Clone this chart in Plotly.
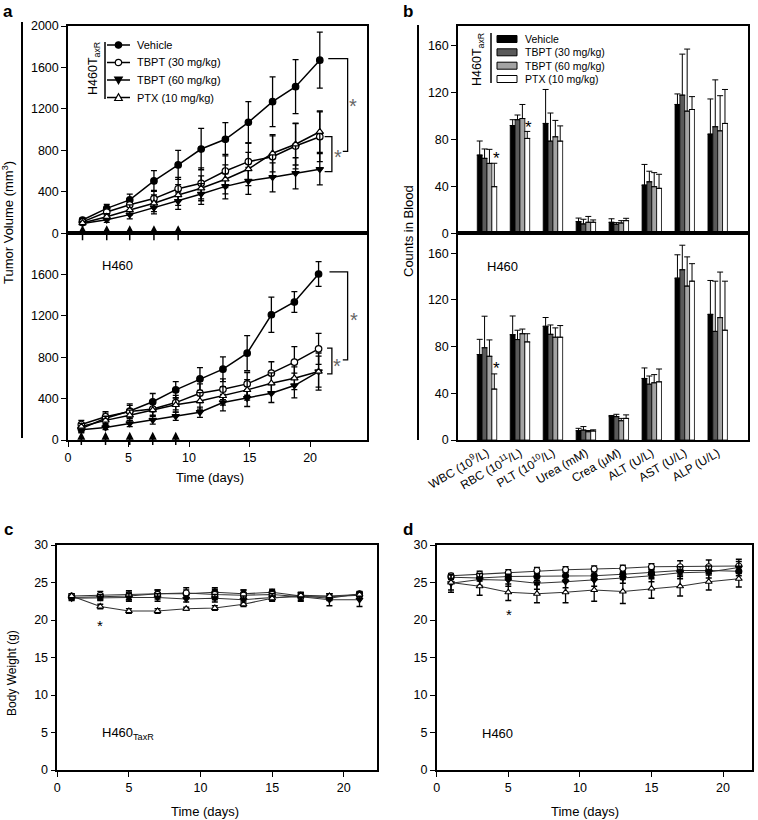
import plotly.graph_objects as go

W, H = 758, 820

groups = ["Vehicle", "TBPT (30 mg/kg)", "TBPT (60 mg/kg)", "PTX (10 mg/kg)"]
symbols = ["circle", "circle", "triangle-down", "triangle-up"]
fills = ["black", "white", "black", "white"]
bar_colors = ["black", "#5a5a5a", "#a3a3a3", "white"]

# ---- panel a: tumor volume (mm3), H460TaxR (top) and H460 (bottom)
days_a_top = [1.2, 3.2, 5.1, 7.1, 9.1, 11.0, 13.0, 14.9, 16.9, 18.8, 20.8]
vol_taxr = [
    [128, 240, 322, 505, 660, 813, 907, 1071, 1270, 1415, 1670],
    [110, 205, 275, 335, 430, 482, 601, 691, 739, 842, 932],
    [95, 130, 180, 247, 310, 379, 453, 505, 540, 579, 618],
    [100, 160, 225, 290, 370, 434, 521, 620, 772, 859, 980],
]
vol_taxr_err = [
    [20, 40, 55, 100, 140, 200, 160, 200, 240, 260, 270],
    [20, 30, 50, 80, 110, 150, 160, 180, 200, 220, 240],
    [15, 25, 40, 60, 80, 100, 120, 130, 140, 150, 150],
    [15, 30, 50, 80, 100, 120, 140, 160, 180, 200, 200],
]
days_a_bot = [1.1, 3.1, 5.1, 7.0, 8.9, 10.9, 12.8, 14.8, 16.8, 18.7, 20.7]
vol_h460 = [
    [110, 210, 280, 370, 485, 591, 685, 840, 1212, 1335, 1606],
    [150, 225, 275, 300, 362, 453, 491, 543, 647, 753, 882],
    [100, 120, 160, 194, 230, 269, 362, 404, 453, 527, 662],
    [130, 190, 240, 290, 340, 378, 427, 485, 550, 598, 662],
]
vol_h460_err = [
    [40, 50, 70, 80, 80, 110, 120, 170, 170, 100, 120],
    [40, 50, 60, 60, 70, 90, 100, 110, 110, 150, 150],
    [20, 20, 30, 40, 40, 50, 80, 80, 90, 120, 150],
    [30, 40, 50, 60, 70, 80, 90, 100, 100, 110, 180],
]

# ---- panel b: blood counts
markers = ["WBC (10<sup>9</sup>/L)", "RBC (10<sup>11</sup>/L)", "PLT (10<sup>10</sup>/L)",
           "Urea (mM)", "Crea (μM)", "ALT (U/L)", "AST (U/L)", "ALP (U/L)"]
blood_taxr = [
    [66.8, 92, 93.8, 10, 9.4, 41.2, 110, 84.7],
    [64, 97, 78.7, 8, 7.7, 44, 118, 91],
    [59.7, 98, 82.4, 9.4, 8.8, 39.8, 104.3, 87.5],
    [39.8, 81, 78.7, 9.4, 10.8, 38.4, 105.7, 93.8],
]
blood_taxr_err = [
    [12, 5, 29, 3, 3, 17.6, 9, 30],
    [8, 4, 24, 4, 1.4, 9, 35, 40],
    [12, 12, 14, 5, 2, 12, 53, 30],
    [20, 6, 13, 2, 2, 12, 11, 29],
]
blood_h460 = [
    [73.2, 90.2, 97.4, 8, 20, 52.7, 138.6, 107.6],
    [79, 86, 90.5, 8.5, 20, 47.8, 145.8, 93],
    [71.7, 91, 88, 7.1, 16.5, 49, 131.8, 104.8],
    [43.6, 84, 88, 7.7, 18.5, 49.8, 136, 94],
]
blood_h460_err = [
    [13, 16, 7.5, 2, 1, 9, 20, 29],
    [27, 8, 8, 3, 2, 7, 21, 43],
    [14, 4, 8, 1, 2, 7, 25, 39],
    [13, 7, 10, 1, 3, 11, 15, 42],
]

# ---- panels c, d: body weight (g)
days_bw = [1, 3, 5, 7, 9, 11, 13, 15, 17, 19, 21.1]
bw_taxr = [
    [23.0, 23.1, 23.2, 23.5, 23.5, 23.7, 23.5, 23.7, 23.2, 22.9, 23.5],
    [23.2, 23.3, 23.3, 23.4, 23.6, 23.4, 23.3, 23.4, 23.1, 23.1, 23.3],
    [22.9, 23.0, 23.0, 23.0, 22.8, 22.9, 22.7, 23.0, 23.1, 22.7, 22.7],
    [23.2, 21.8, 21.2, 21.2, 21.5, 21.6, 22.1, 22.9, 23.3, 23.2, 23.4],
]
bw_taxr_err = [
    [0.3, 0.4, 0.5, 0.5, 0.5, 0.6, 0.5, 0.4, 0.4, 0.3, 0.3],
    [0.3, 0.5, 0.6, 0.6, 0.7, 0.7, 0.7, 0.5, 0.6, 0.4, 0.4],
    [0.3, 0.4, 0.5, 0.5, 0.4, 0.5, 0.5, 0.5, 0.5, 0.8, 0.9],
    [0.3, 0.3, 0.3, 0.3, 0.2, 0.3, 0.3, 0.3, 0.3, 0.3, 0.3],
]
bw_h460 = [
    [25.7, 25.6, 25.8, 25.8, 25.9, 25.9, 26.1, 26.3, 26.6, 26.6, 26.5],
    [25.9, 26.1, 26.3, 26.6, 26.7, 26.8, 26.9, 27.1, 27.1, 27.1, 27.2],
    [24.9, 25.4, 25.3, 24.9, 25.1, 25.3, 25.6, 25.9, 26.3, 26.4, 27.0],
    [25.0, 24.5, 23.7, 23.5, 23.7, 24.0, 23.8, 24.2, 24.5, 25.1, 25.5],
]
bw_h460_err = [
    [0.3, 0.4, 0.5, 0.5, 0.5, 0.6, 0.6, 0.6, 0.6, 0.6, 0.6],
    [0.3, 0.4, 0.4, 0.4, 0.4, 0.4, 0.4, 0.4, 0.8, 0.9, 0.9],
    [1.2, 0.8, 0.8, 0.8, 0.8, 0.8, 0.7, 0.8, 0.8, 0.8, 0.8],
    [1.0, 1.2, 1.1, 1.2, 1.4, 1.5, 1.6, 1.3, 1.3, 1.1, 1.1],
]

FONT = "Arial, Liberation Sans, sans-serif"
fig = go.Figure()


def add_lines(x, ys, errs, ax, lw=1.5, ms=6.5, color="black"):
    for i in range(4):
        fig.add_trace(go.Scatter(
            x=x, y=ys[i], mode="lines+markers", name=groups[i], showlegend=False,
            xaxis="x" + ax, yaxis="y" + ax,
            line=dict(color=color, width=lw),
            marker=dict(symbol=symbols[i], size=ms, color=fills[i],
                        line=dict(color="black", width=1.2)),
            error_y=dict(type="data", array=errs[i], color="black", thickness=1.3, width=3),
        ))


def add_bars(vals, errs, ax):
    for i in range(4):
        fig.add_trace(go.Bar(
            x=markers, y=vals[i], name=groups[i], showlegend=False,
            xaxis="x" + ax, yaxis="y" + ax,
            marker=dict(color=bar_colors[i], line=dict(color="black", width=0.8)),
            error_y=dict(type="data", array=errs[i], arrayminus=[0] * len(vals[i]),
                         symmetric=False, color="black", thickness=1, width=3),
        ))


add_lines(days_a_top, vol_taxr, vol_taxr_err, "")
add_lines(days_a_bot, vol_h460, vol_h460_err, "2")
add_bars(blood_taxr, blood_taxr_err, "3")
add_bars(blood_h460, blood_h460_err, "4")
add_lines(days_bw, bw_taxr, bw_taxr_err, "5", lw=1.1, ms=6, color="#333")
add_lines(days_bw, bw_h460, bw_h460_err, "6", lw=1.1, ms=6, color="#333")


def dx(l, r):
    return [l / W, r / W]


def dy(t, b):
    return [1 - b / H, 1 - t / H]


base = dict(showline=True, linecolor="black", linewidth=1.5, mirror=True, showgrid=False,
            zeroline=False, ticks="outside", ticklen=5, tickcolor="black", tickwidth=1.2,
            automargin=False, tickfont=dict(size=12.5, color="black", family=FONT))
noticks = dict(base, ticks="", showticklabels=False)

fig.update_layout(
    width=W, height=H, margin=dict(l=0, r=0, t=0, b=0, autoexpand=False),
    paper_bgcolor="white", plot_bgcolor="white",
    font=dict(family=FONT, color="black"),
    barmode="group", bargap=0.41, bargroupgap=0,
    xaxis=dict(noticks, domain=dx(68, 367), range=[0, 24.7], anchor="y"),
    yaxis=dict(base, domain=dy(26, 233.3), range=[0, 2000], tickvals=[0, 400, 800, 1200, 1600, 2000], anchor="x"),
    xaxis2=dict(base, domain=dx(68, 367), range=[0, 24.7], tickvals=[0, 5, 10, 15, 20], anchor="y2"),
    yaxis2=dict(base, domain=dy(233.3, 440), range=[0, 2000], tickvals=[0, 400, 800, 1200, 1600], anchor="x2"),
    xaxis3=dict(noticks, domain=dx(458, 748), range=[-0.88, 7.92], anchor="y3"),
    yaxis3=dict(base, domain=dy(26, 233.3), range=[0, 177], tickvals=[0, 40, 80, 120, 160], anchor="x3"),
    xaxis4=dict(base, domain=dx(458, 748), range=[-0.88, 7.92], ticks="", tickangle=-30,
                tickfont=dict(size=12, family=FONT, color="black"), anchor="y4"),
    yaxis4=dict(base, domain=dy(233.3, 440), range=[0, 177], tickvals=[0, 40, 80, 120, 160], anchor="x4"),
    xaxis5=dict(base, domain=dx(57.3, 376.7), range=[0, 22.3], tickvals=[0, 5, 10, 15, 20], anchor="y5"),
    yaxis5=dict(base, domain=dy(545, 770), range=[0, 30], tickvals=[0, 5, 10, 15, 20, 25, 30], anchor="x5"),
    xaxis6=dict(base, domain=dx(436.7, 751.7), range=[0, 22.0], tickvals=[0, 5, 10, 15, 20], anchor="y6"),
    yaxis6=dict(base, domain=dy(545, 770), range=[0, 30], tickvals=[0, 5, 10, 15, 20, 25, 30], anchor="x6"),
)

ann = []
shapes = []


def ptext(x, y, text, size=13, angle=0, bold=False, xanchor="center", color="black"):
    ann.append(dict(xref="paper", yref="paper", x=x / W, y=1 - y / H, text=("<b>%s</b>" % text) if bold else text,
                    showarrow=False, textangle=angle, xanchor=xanchor, yanchor="middle",
                    font=dict(size=size, family=FONT, color=color)))


def pline(x0, y0, x1, y1, w=1.5):
    shapes.append(dict(type="line", xref="paper", yref="paper", x0=x0 / W, x1=x1 / W,
                       y0=1 - y0 / H, y1=1 - y1 / H, line=dict(color="black", width=w)))


# panel letters
ptext(8, 11, "a", 17, bold=True)
ptext(408, 11, "b", 17, bold=True)
ptext(8, 529, "c", 17, bold=True)
ptext(408, 529, "d", 17, bold=True)

# axis titles
ptext(8, 223, "Tumor Volume (mm<sup>3</sup>)", 13, angle=-90)
pline(22, 22, 22, 438, 2)
ptext(210, 478, "Time (days)", 13)
ptext(408, 231, "Counts in Blood", 13, angle=-90)
pline(418, 25, 418, 440, 2)
ptext(12, 673, "Body Weight (g)", 12, angle=-90)
ptext(205, 811, "Time (days)", 13)
ptext(585, 811, "Time (days)", 13)

# legend panel a
ptext(94, 69, "H460T<sub>axR</sub>", 12.5, angle=-90)
pline(105, 42, 105, 99, 1.5)
leg_y = [45, 62.5, 80, 97.5]
for i, yy in enumerate(leg_y):
    pline(107, yy, 130, yy, 1.5)
    ptext(135, yy, groups[i], 11, xanchor="left")
    anchor = dict(xref="paper", yref="paper", xsizemode="pixel", ysizemode="pixel",
                  xanchor=118.5 / W, yanchor=1 - yy / H, fillcolor=fills[i],
                  line=dict(color="black", width=1.2))
    if symbols[i] == "circle":
        shapes.append(dict(anchor, type="circle", x0=-3.2, x1=3.2, y0=-3.2, y1=3.2))
    elif symbols[i] == "triangle-down":
        shapes.append(dict(anchor, type="path", path="M -3.8,3 L 3.8,3 L 0,-3.8 Z"))
    else:
        shapes.append(dict(anchor, type="path", path="M -3.8,-3 L 3.8,-3 L 0,3.8 Z"))

# legend panel b
ptext(478, 60, "H460T<sub>axR</sub>", 12.5, angle=-90)
pline(491, 33, 491, 83, 1.5)
for i, yy in enumerate([39, 52.3, 65.7, 79]):
    shapes.append(dict(type="rect", xref="paper", yref="paper", x0=497 / W, x1=517 / W,
                       y0=1 - (yy + 3.5) / H, y1=1 - (yy - 3.5) / H, fillcolor=bar_colors[i],
                       line=dict(color="black", width=1)))
    ptext(523, yy, groups[i], 10.5, xanchor="left")

# dosing arrows under the x axis of both panel-a plots
for days, axis_y, tail in [(days_a_top, 233.3, 7), (days_a_bot, 440, 5)]:
    for d in days[:5]:
        shapes.append(dict(type="path", xref="x", yref="paper", xsizemode="pixel", ysizemode="pixel",
                           xanchor=d, yanchor=1 - axis_y / H,
                           path="M 0,-%d L 0,2 M -2.8,1 L 2.8,1 L 0,6.5 Z" % tail,
                           fillcolor="black", line=dict(color="black", width=1.5)))


def dpath(ax, path):
    shapes.append(dict(type="path", xref="x" + ax, yref="y" + ax, path=path,
                       line=dict(color="black", width=1.3)))


def dtext(ax, x, y, text, size=13, color="black", xanchor="center"):
    ann.append(dict(xref="x" + ax, yref="y" + ax, x=x, y=y, text=text, showarrow=False,
                    xanchor=xanchor, font=dict(size=size, family=FONT, color=color)))


# significance brackets, panel a
dpath("", "M 21.5,1685 L 23.1,1685 L 23.1,790 L 22.7,790")
dpath("", "M 21.2,932 L 21.8,932 L 21.8,595 L 21.2,595")
dtext("", 23.55, 1230, "*", 20, "#666")
dtext("", 22.3, 740, "*", 20, "#666")
dpath("2", "M 21.6,1626 L 23.1,1626 L 23.1,776 L 22.7,776")
dpath("2", "M 21.4,889 L 21.8,889 L 21.8,640 L 21.4,640")
dtext("2", 23.6, 1160, "*", 20, "#666")
dtext("2", 22.25, 720, "*", 20, "#666")

dtext("2", 2.64, 1690, "H460", 13, xanchor="left")
dtext("4", -0.06, 148.7, "H460", 13, xanchor="left")
dtext("5", 3.0, 4.9, "H460<sub>TaxR</sub>", 13, xanchor="left")
dtext("6", 3.0, 4.9, "H460", 13, xanchor="left")

# stars, panel b, c, d
dtext("3", 0.3, 64, "*", 17)
dtext("3", 1.27, 90, "*", 17)
dtext("4", 0.3, 61, "*", 17)
dtext("5", 2.95, 19.3, "*", 15)
dtext("6", 5.05, 20.7, "*", 15)

fig.update_layout(annotations=ann, shapes=shapes)
# the page's default body margin would push the figure 8px right and down
fig.write_html("out.html", config={"displayModeBar": False},
               post_script="document.body.style.margin='0';document.body.style.overflow='hidden';")
